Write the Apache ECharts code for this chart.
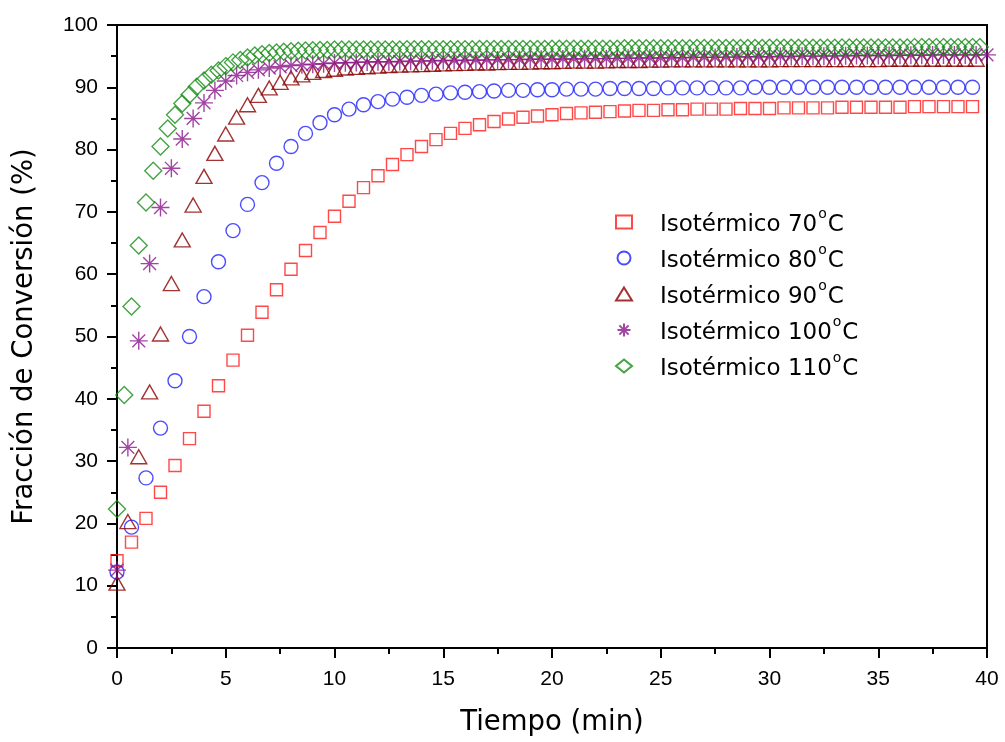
<!DOCTYPE html>
<html>
<head>
<meta charset="utf-8">
<script src="https://cdn.jsdelivr.net/npm/echarts@6/dist/echarts.min.js"></script>
<style>html,body{margin:0;padding:0;background:#fff;}#c{width:1005px;height:742px;}</style>
</head>
<body>
<div id="c"></div>
<script>
// Series names
const seriesNames = ['Isotérmico 70°C', 'Isotérmico 80°C', 'Isotérmico 90°C', 'Isotérmico 100°C', 'Isotérmico 110°C'];
// Sampling intervals (min)
const step70 = 2 / 3, step80 = 2 / 3, step90 = 0.5, step100 = 0.5, step110 = 1 / 3;
// Tick labels
const xTicks = [0, 5, 10, 15, 20, 25, 30, 35, 40];
const yTicks = [0, 10, 20, 30, 40, 50, 60, 70, 80, 90, 100];

// Conversion values (%)
const conv70 = [14.0, 17.0, 20.8, 25.0, 29.3, 33.6, 38.0, 42.1, 46.2, 50.2,
  53.9, 57.5, 60.8, 63.8, 66.7, 69.3, 71.7, 73.9, 75.8, 77.6,
  79.2, 80.5, 81.6, 82.6, 83.4, 84.0, 84.5, 84.9, 85.2, 85.4,
  85.6, 85.8, 85.9, 86.0, 86.1, 86.2, 86.3, 86.3, 86.4, 86.4,
  86.5, 86.5, 86.5, 86.6, 86.6, 86.6, 86.7, 86.7, 86.7, 86.7,
  86.8, 86.8, 86.8, 86.8, 86.8, 86.9, 86.9, 86.9, 86.9, 86.9];
const conv80 = [12.2, 19.4, 27.3, 35.3, 42.9, 50.0, 56.4, 62.0, 67.0, 71.2,
  74.7, 77.8, 80.5, 82.6, 84.3, 85.6, 86.5, 87.2, 87.7, 88.1,
  88.4, 88.7, 88.9, 89.1, 89.2, 89.3, 89.4, 89.5, 89.5, 89.6,
  89.6, 89.7, 89.7, 89.7, 89.8, 89.8, 89.8, 89.8, 89.9, 89.9,
  89.9, 89.9, 89.9, 89.9, 90.0, 90.0, 90.0, 90.0, 90.0, 90.0,
  90.0, 90.0, 90.0, 90.0, 90.0, 90.0, 90.0, 90.0, 90.0, 90.0];
const conv90 = [10.4, 20.3, 30.7, 41.1, 50.4, 58.5, 65.5, 71.1, 75.7, 79.4,
  82.5, 85.2, 87.2, 88.7, 89.9, 90.8, 91.5, 92.0, 92.4, 92.7,
  92.9, 93.1, 93.2, 93.3, 93.4, 93.5, 93.55, 93.6, 93.65, 93.7,
  93.75, 93.8, 93.85, 93.9, 93.9, 93.95, 94.0, 94.0, 94.05, 94.1,
  94.1, 94.15, 94.2, 94.2, 94.2, 94.25, 94.3, 94.3, 94.3, 94.35,
  94.35, 94.4, 94.4, 94.4, 94.4, 94.4, 94.4, 94.4, 94.4, 94.4,
  94.4, 94.45, 94.45, 94.45, 94.45, 94.45, 94.45, 94.45, 94.45, 94.45,
  94.45, 94.5, 94.5, 94.5, 94.5, 94.5, 94.5, 94.5, 94.5, 94.5];
const conv100 = [12.5, 32.2, 49.3, 61.7, 70.7, 77.0, 81.7, 85.0, 87.5, 89.5,
  91.0, 91.9, 92.4, 92.8, 93.1, 93.3, 93.5, 93.6, 93.7, 93.8,
  93.9, 93.95, 94.0, 94.05, 94.1, 94.1, 94.15, 94.2, 94.2, 94.25,
  94.3, 94.3, 94.35, 94.35, 94.4, 94.4, 94.45, 94.45, 94.5, 94.5,
  94.5, 94.55, 94.55, 94.6, 94.6, 94.6, 94.65, 94.65, 94.7, 94.7,
  94.7, 94.75, 94.75, 94.8, 94.8, 94.8, 94.85, 94.85, 94.9, 94.9,
  94.9, 94.95, 94.95, 95.0, 95.0, 95.0, 95.05, 95.05, 95.1, 95.1,
  95.1, 95.1, 95.15, 95.15, 95.15, 95.2, 95.2, 95.2, 95.2, 95.2, 95.2];
const conv110 = [22.3, 40.6, 54.8, 64.6, 71.5, 76.6, 80.5, 83.4, 85.6, 87.4,
  88.8, 90.1, 91.1, 92.0, 92.7, 93.4, 94.0, 94.4, 94.8, 95.1,
  95.3, 95.5, 95.6, 95.7, 95.8, 95.85, 95.9, 95.95, 96.0, 96.0,
  96.05, 96.05, 96.05, 96.05, 96.05, 96.05, 96.05, 96.05, 96.05, 96.05,
  96.1, 96.1, 96.1, 96.1, 96.1, 96.1, 96.1, 96.1, 96.1, 96.1,
  96.15, 96.15, 96.15, 96.15, 96.15, 96.15, 96.15, 96.15, 96.15, 96.15,
  96.2, 96.2, 96.2, 96.2, 96.2, 96.2, 96.2, 96.2, 96.2, 96.2,
  96.25, 96.25, 96.25, 96.25, 96.25, 96.25, 96.25, 96.25, 96.25, 96.25,
  96.3, 96.3, 96.3, 96.3, 96.3, 96.3, 96.3, 96.3, 96.3, 96.3,
  96.35, 96.35, 96.35, 96.35, 96.35, 96.35, 96.35, 96.35, 96.35, 96.35,
  96.4, 96.4, 96.4, 96.4, 96.4, 96.4, 96.4, 96.4, 96.4, 96.4,
  96.45, 96.45, 96.45, 96.45, 96.45, 96.45, 96.45, 96.45, 96.45, 96.45];

function pairs(values, step) {
  return values.map((v, i) => [i * step, v]);
}

const starPath = 'path://M8,0L8,16M0,8L16,8M2.3,2.3L13.7,13.7M13.7,2.3L2.3,13.7';

const styles = [
  { symbol: 'rect', size: 12, color: '#ff1a1a' },
  { symbol: 'circle', size: 14, color: '#1f1fff' },
  { symbol: 'triangle', size: [16, 14], color: '#8b0000' },
  { symbol: starPath, size: 18, color: '#8b168b' },
  { symbol: 'diamond', size: [17, 17], color: '#148c14' }
];
const dataSets = [
  pairs(conv70, step70), pairs(conv80, step80), pairs(conv90, step90),
  pairs(conv100, step100), pairs(conv110, step110)
];

const chart = echarts.init(document.getElementById('c'), null, { renderer: 'canvas' });
const labelFont = 'Liberation Sans';
const titleFont = 'DejaVu Sans';

chart.setOption({
  animation: false,
  backgroundColor: '#fff',
  grid: { left: 117, right: 18, top: 25, bottom: 94, show: true, borderColor: '#000', borderWidth: 2 },
  xAxis: {
    type: 'value', min: 0, max: 40, interval: 5,
    name: 'Tiempo (min)', nameLocation: 'middle', nameGap: 61,
    nameTextStyle: { fontFamily: titleFont, fontSize: 27.5, color: '#000' },
    axisLine: { lineStyle: { color: '#000', width: 2 } },
    axisTick: { inside: false, length: 10, lineStyle: { color: '#000', width: 2 } },
    minorTick: { show: true, splitNumber: 2, length: 6, lineStyle: { color: '#000', width: 2 } },
    splitLine: { show: false },
    axisLabel: { fontFamily: labelFont, fontSize: 21, color: '#000', margin: 21,
      formatter: v => xTicks.includes(v) ? String(v) : '' }
  },
  yAxis: {
    type: 'value', min: 0, max: 100, interval: 10,
    name: 'Fracción de Conversión (%)', nameLocation: 'middle', nameGap: 78,
    nameTextStyle: { fontFamily: titleFont, fontSize: 27.5, color: '#000' },
    axisLine: { lineStyle: { color: '#000', width: 2 } },
    axisTick: { inside: false, length: 10, lineStyle: { color: '#000', width: 2 } },
    minorTick: { show: true, splitNumber: 2, length: 6, lineStyle: { color: '#000', width: 2 } },
    splitLine: { show: false },
    axisLabel: { fontFamily: labelFont, fontSize: 21, color: '#000', margin: 19,
      formatter: v => yTicks.includes(v) ? String(v) : '' }
  },
  legend: {
    orient: 'vertical', left: 610, top: 202, itemGap: 6,
    itemWidth: 16, itemHeight: 13,
    data: seriesNames,
    formatter: name => {
      const parts = name.split('°');
      return '{n|' + parts[0] + '}{s|o}{n|' + parts[1] + '}';
    },
    textStyle: {
      fontFamily: titleFont, fontSize: 23, color: '#000', padding: [0, 0, 0, 23],
      rich: {
        n: { fontFamily: titleFont, fontSize: 23, color: '#000', lineHeight: 30, verticalAlign: 'bottom' },
        s: { fontFamily: titleFont, fontSize: 14, color: '#000', lineHeight: 30, verticalAlign: 'top', padding: [0, 1, 0, 1] }
      }
    }
  },
  series: dataSets.map((d, i) => ({
    name: seriesNames[i],
    type: 'scatter',
    data: d,
    symbol: styles[i].symbol,
    symbolSize: styles[i].size,
    itemStyle: { color: 'rgba(0,0,0,0)', borderColor: styles[i].color, borderWidth: 1.4 },
    emphasis: { disabled: true },
    clip: false
  }))
});
</script>
</body>
</html>
